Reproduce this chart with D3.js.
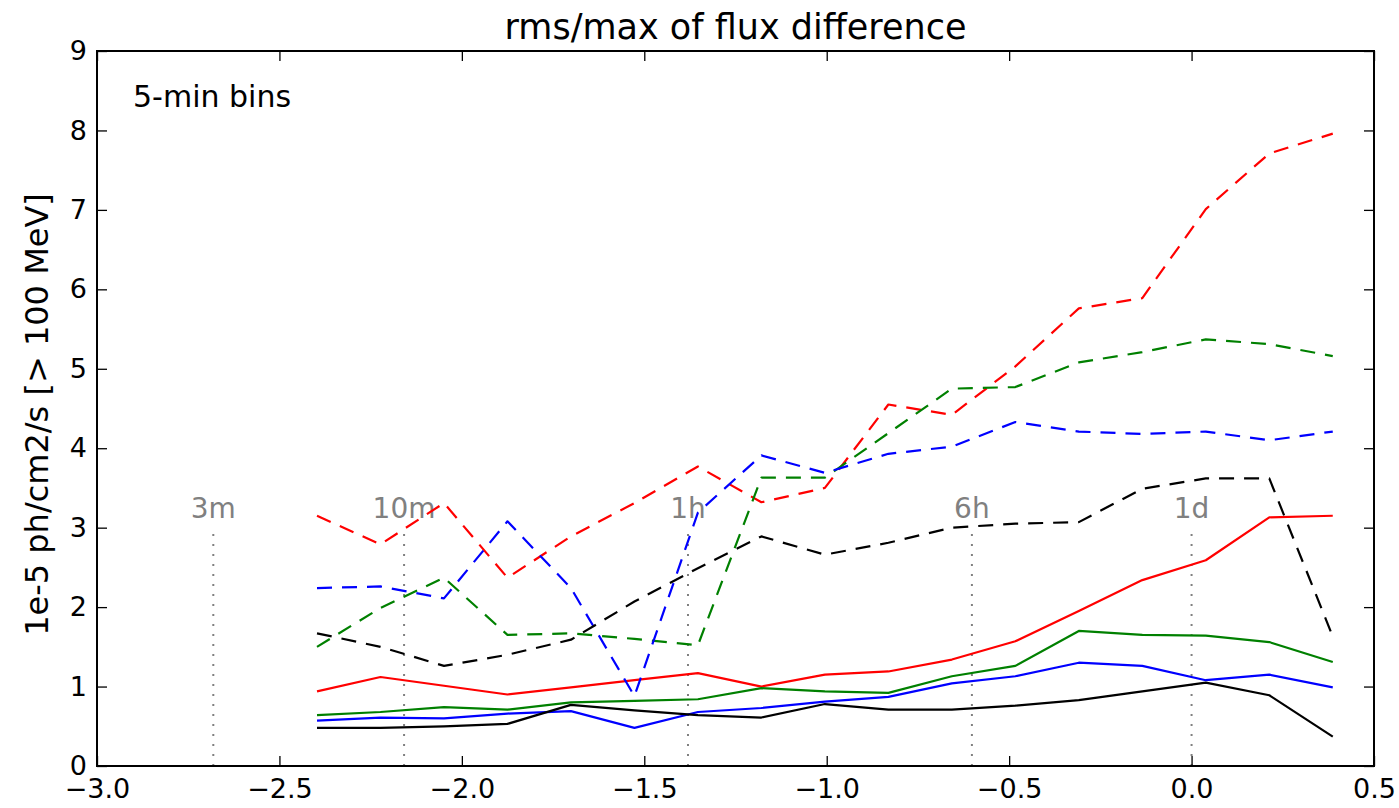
<!DOCTYPE html>
<html>
<head>
<meta charset="utf-8">
<script src="https://cdn.jsdelivr.net/npm/d3@7"></script>
<style>
  html, body { margin: 0; padding: 0; background: #fff; }
  svg { display: block; font-family: "DejaVu Sans", sans-serif; }
</style>
</head>
<body>
<svg id="chart" width="1399" height="808"></svg>
<script>
// log10(time bin in days)
const xValues = [-2.397, -2.223, -2.049, -1.875, -1.701, -1.527, -1.353, -1.179, -1.005,
                 -0.831, -0.657, -0.483, -0.309, -0.135, 0.039, 0.213, 0.387];

// solid lines
const redSolid   = [0.94, 1.12, 1.01, 0.90, 0.99, 1.08, 1.17, 1.00, 1.15, 1.19, 1.34, 1.57, 1.95, 2.34, 2.59, 3.13, 3.15];
const greenSolid = [0.64, 0.68, 0.74, 0.71, 0.80, 0.82, 0.84, 0.98, 0.94, 0.92, 1.13, 1.26, 1.70, 1.65, 1.64, 1.56, 1.31];
const blueSolid  = [0.57, 0.61, 0.60, 0.66, 0.69, 0.48, 0.68, 0.73, 0.81, 0.87, 1.04, 1.13, 1.30, 1.26, 1.08, 1.15, 0.99];
const blackSolid = [0.48, 0.48, 0.50, 0.53, 0.77, 0.70, 0.64, 0.61, 0.78, 0.71, 0.71, 0.76, 0.83, 0.94, 1.05, 0.89, 0.37];

// dashed lines
const redDashed   = [3.15, 2.79, 3.31, 2.37, 2.89, 3.31, 3.77, 3.32, 3.50, 4.55, 4.42, 5.03, 5.76, 5.89, 7.01, 7.71, 7.96];
const greenDashed = [1.50, 1.99, 2.37, 1.65, 1.67, 1.60, 1.52, 3.63, 3.63, 4.19, 4.75, 4.77, 5.08, 5.21, 5.37, 5.31, 5.16];
const blueDashed  = [2.24, 2.26, 2.11, 3.08, 2.24, 0.88, 3.19, 3.91, 3.69, 3.93, 4.02, 4.33, 4.21, 4.18, 4.21, 4.10, 4.21];
const blackDashed = [1.67, 1.50, 1.26, 1.40, 1.59, 2.07, 2.49, 2.89, 2.66, 2.81, 3.00, 3.05, 3.07, 3.49, 3.62, 3.62, 1.63];

// reference time scales
const markerLabels = ["3m", "10m", "1h", "6h", "1d"];
const markerValues = [Math.log10(3 / 1440), Math.log10(10 / 1440), Math.log10(1 / 24), Math.log10(6 / 24), 0];

const xTicks = [-3.0, -2.5, -2.0, -1.5, -1.0, -0.5, 0.0, 0.5];
const yTicks = [0, 1, 2, 3, 4, 5, 6, 7, 8, 9];

const series = [
  { values: redSolid,    color: "#ff0000", dashed: false },
  { values: greenSolid,  color: "#008000", dashed: false },
  { values: blueSolid,   color: "#0000ff", dashed: false },
  { values: blackSolid,  color: "#000000", dashed: false },
  { values: redDashed,   color: "#ff0000", dashed: true },
  { values: greenDashed, color: "#008000", dashed: true },
  { values: blueDashed,  color: "#0000ff", dashed: true },
  { values: blackDashed, color: "#000000", dashed: true }
];

const margin = { left: 97, right: 25, top: 51, bottom: 42 };
const W = 1399, H = 808;
const svg = d3.select("#chart");
const x = d3.scaleLinear().domain([-3, 0.5]).range([margin.left, W - margin.right]);
const y = d3.scaleLinear().domain([0, 9]).range([H - margin.bottom, margin.top]);

const fmt = d => d3.format(".1f")(d).replace("-", "\u2212");

// dotted reference lines with labels
const markers = svg.append("g");
markerValues.forEach((v, i) => {
  markers.append("line")
    .attr("x1", x(v)).attr("x2", x(v))
    .attr("y1", y(0)).attr("y2", y(3))
    .attr("stroke", "#808080").attr("stroke-width", 2)
    .attr("stroke-dasharray", "2,8");
  markers.append("text")
    .attr("x", x(v)).attr("y", y(3.1) - 2)
    .attr("text-anchor", "middle")
    .attr("font-size", 28)
    .attr("fill", "#808080")
    .text(markerLabels[i]);
});

// data lines
const line = d3.line().x((d, i) => x(xValues[i])).y(d => y(d));
series.forEach(s => {
  svg.append("path")
    .datum(s.values)
    .attr("d", line)
    .attr("fill", "none")
    .attr("stroke", s.color)
    .attr("stroke-width", 2.2)
    .attr("stroke-linejoin", "round")
    .attr("stroke-dasharray", s.dashed ? "15,10" : null);
});

// axes: ticks point inward on all four sides
const tickLen = 10;
const gx = svg.append("g").attr("transform", `translate(0,${y(0)})`)
  .call(d3.axisBottom(x).tickValues(xTicks).tickSize(-tickLen).tickPadding(13).tickFormat(fmt));
const gxTop = svg.append("g").attr("transform", `translate(0,${y(9)})`)
  .call(d3.axisTop(x).tickValues(xTicks).tickSize(-tickLen).tickFormat(""));
const gy = svg.append("g").attr("transform", `translate(${x(-3)},0)`)
  .call(d3.axisLeft(y).tickValues(yTicks).tickSize(-tickLen).tickPadding(10).tickFormat(d3.format("d")));
const gyRight = svg.append("g").attr("transform", `translate(${x(0.5)},0)`)
  .call(d3.axisRight(y).tickValues(yTicks).tickSize(-tickLen).tickFormat(""));

[gx, gxTop, gy, gyRight].forEach(g => {
  g.select(".domain").remove();
  g.selectAll(".tick line").attr("stroke", "#000").attr("stroke-width", 1.3);
  g.selectAll(".tick text").attr("font-size", 27).attr("fill", "#000")
    .attr("font-family", "DejaVu Sans, sans-serif");
});

// frame
svg.append("rect")
  .attr("x", x(-3)).attr("y", y(9))
  .attr("width", x(0.5) - x(-3)).attr("height", y(0) - y(9))
  .attr("fill", "none").attr("stroke", "#000").attr("stroke-width", 2);

// title
svg.append("text")
  .attr("x", (x(-3) + x(0.5)) / 2).attr("y", 39)
  .attr("text-anchor", "middle").attr("font-size", 35)
  .text("rms/max of flux difference");

// y-axis label
svg.append("text")
  .attr("transform", `translate(48,${(y(0) + y(9)) / 2 + 6}) rotate(-90)`)
  .attr("text-anchor", "middle").attr("font-size", 32)
  .text("1e-5 ph/cm2/s [> 100 MeV]");

// bin annotation
svg.append("text")
  .attr("x", 133).attr("y", 107)
  .attr("font-size", 30)
  .text("5-min bins");
</script>
</body>
</html>
